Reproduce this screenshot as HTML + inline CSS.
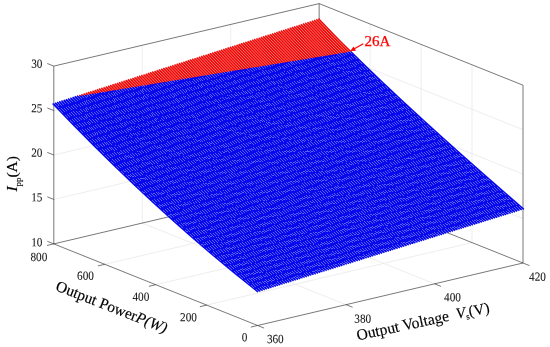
<!DOCTYPE html>
<html><head><meta charset="utf-8"><title>Ipp surface</title>
<style>
html,body{margin:0;padding:0;background:#fff}
svg{display:block}
.g{stroke:#e9e9e9;stroke-width:0.8;fill:none}
.b{stroke:#262626;stroke-width:0.62;fill:none}
.sb{stroke:#0a0aec;stroke-width:1.5;fill:none}
.sr{stroke:#ee0a0a;stroke-width:1.5;fill:none}
.lb path{stroke:#7482f6;stroke-width:0.7;fill:none;stroke-dasharray:4.6 2.6;shape-rendering:crispEdges}
.lr path{stroke:#ffb8a8;stroke-width:0.62;fill:none}
text{font-family:"Liberation Serif",serif;fill:#151515;stroke:#151515;stroke-width:0.07}
.t{font-size:11.2px}
.a{font-size:15.6px;fill:#000;stroke:#000;stroke-width:0.15}
.an{font-size:15px;fill:#f00;stroke:#f00;stroke-width:0.25}
</style></head><body>
<svg width="550" height="347" viewBox="0 0 550 347">
<rect width="550" height="347" fill="#fff"/>
<g><line x1="142.25" y1="223.07" x2="142.25" y2="45.27" class="g"/><line x1="142.25" y1="223.07" x2="346.10" y2="304.67" class="g"/><line x1="230.70" y1="202.23" x2="230.70" y2="24.43" class="g"/><line x1="230.70" y1="202.23" x2="434.55" y2="283.83" class="g"/><line x1="472.04" y1="242.60" x2="472.04" y2="64.80" class="g"/><line x1="206.69" y1="305.10" x2="472.04" y2="242.60" class="g"/><line x1="421.08" y1="222.20" x2="421.08" y2="44.40" class="g"/><line x1="155.72" y1="284.70" x2="421.08" y2="222.20" class="g"/><line x1="370.11" y1="201.80" x2="370.11" y2="24.00" class="g"/><line x1="104.76" y1="264.30" x2="370.11" y2="201.80" class="g"/><line x1="53.80" y1="199.45" x2="319.15" y2="136.95" class="g"/><line x1="319.15" y1="136.95" x2="523.00" y2="218.55" class="g"/><line x1="53.80" y1="155.00" x2="319.15" y2="92.50" class="g"/><line x1="319.15" y1="92.50" x2="523.00" y2="174.10" class="g"/><line x1="53.80" y1="110.55" x2="319.15" y2="48.05" class="g"/><line x1="319.15" y1="48.05" x2="523.00" y2="129.65" class="g"/></g>
<g><line x1="53.80" y1="243.90" x2="53.80" y2="66.10" class="b"/><line x1="53.80" y1="243.90" x2="257.65" y2="325.50" class="b"/><line x1="257.65" y1="325.50" x2="523.00" y2="263.00" class="b"/><line x1="53.80" y1="243.90" x2="319.15" y2="181.40" class="b"/><line x1="319.15" y1="181.40" x2="523.00" y2="263.00" class="b"/><line x1="319.15" y1="181.40" x2="319.15" y2="3.60" class="b"/><line x1="53.80" y1="66.10" x2="319.15" y2="3.60" class="b"/><line x1="319.15" y1="3.60" x2="523.00" y2="85.20" class="b"/><line x1="523.00" y1="263.00" x2="523.00" y2="85.20" class="b"/><line x1="53.80" y1="243.90" x2="47.30" y2="241.30" class="b"/><line x1="53.80" y1="199.45" x2="47.30" y2="196.85" class="b"/><line x1="53.80" y1="155.00" x2="47.30" y2="152.40" class="b"/><line x1="53.80" y1="110.55" x2="47.30" y2="107.95" class="b"/><line x1="53.80" y1="66.10" x2="47.30" y2="63.50" class="b"/><line x1="257.65" y1="325.50" x2="250.84" y2="327.10" class="b"/><line x1="206.69" y1="305.10" x2="199.87" y2="306.70" class="b"/><line x1="155.72" y1="284.70" x2="148.91" y2="286.30" class="b"/><line x1="104.76" y1="264.30" x2="97.95" y2="265.90" class="b"/><line x1="53.80" y1="243.90" x2="46.99" y2="245.50" class="b"/><line x1="257.65" y1="325.50" x2="264.15" y2="328.10" class="b"/><line x1="346.10" y1="304.67" x2="352.60" y2="307.27" class="b"/><line x1="434.55" y1="283.83" x2="441.05" y2="286.43" class="b"/><line x1="523.00" y1="263.00" x2="529.50" y2="265.60" class="b"/></g>
<clipPath id="below"><polygon points="0,108.32 550,18.37 550,347 0,347"/></clipPath>
<path d="M53.40 104.20 L319.30 19.40 Q385.70 90.00 523.00 208.60 L257.30 291.30 Q156.60 212.20 53.40 104.20 Z" fill="#0a0aec" clip-path="url(#below)"/>
<clipPath id="above"><polygon points="0,108.92 550,18.97 550,0 0,0"/></clipPath>
<path d="M53.40 104.20 L319.30 19.40 Q385.70 90.00 523.00 208.60 L257.30 291.30 Q156.60 212.20 53.40 104.20 Z" fill="#ee0a0a" clip-path="url(#above)"/>
<path d="M52.64 103.40 L53.40 104.20 Q156.60 212.20 257.30 291.30 L258.17 291.98M54.86 102.70 L55.62 103.49 Q158.51 211.18 259.51 290.61 L260.38 291.29M57.07 101.99 L57.83 102.79 Q160.42 210.16 261.73 289.92 L262.59 290.60M59.29 101.28 L60.05 102.08 Q162.33 209.14 263.94 289.23 L264.81 289.91M61.50 100.58 L62.26 101.37 Q164.24 208.13 266.16 288.54 L267.02 289.22M63.72 99.87 L64.48 100.67 Q166.15 207.11 268.37 287.85 L269.23 288.54M65.94 99.16 L66.69 99.96 Q168.06 206.09 270.59 287.17 L271.45 287.85M68.15 98.46 L68.91 99.25 Q169.96 205.07 272.80 286.48 L273.66 287.16M70.37 97.75 L71.13 98.55 Q171.87 204.05 275.01 285.79 L275.88 286.47M72.58 97.04 L73.34 97.84 Q173.78 203.03 277.23 285.10 L278.09 285.78M74.80 96.34 L75.56 97.13 Q175.69 202.02 279.44 284.41 L280.30 285.09M77.01 95.63 L77.77 96.43 Q177.60 201.00 281.66 283.72 L282.52 284.40M80.09 95.82 Q179.56 200.02 283.87 283.03 L284.73 283.71M82.59 95.41 Q181.62 199.12 286.08 282.34 L286.94 283.03M85.09 95.00 Q183.68 198.23 288.30 281.65 L289.16 282.34M87.59 94.60 Q185.74 197.33 290.51 280.96 L291.37 281.65M90.09 94.19 Q187.81 196.44 292.73 280.27 L293.59 280.96M92.59 93.78 Q189.88 195.54 294.94 279.58 L295.80 280.27M95.09 93.37 Q191.95 194.65 297.16 278.89 L298.01 279.58M97.59 92.96 Q194.02 193.77 299.37 278.21 L300.23 278.89M100.09 92.55 Q196.09 192.88 301.58 277.52 L302.44 278.21M102.59 92.14 Q198.16 192.00 303.80 276.83 L304.66 277.52M105.09 91.73 Q200.24 191.11 306.01 276.14 L306.87 276.83M107.59 91.32 Q202.32 190.23 308.23 275.45 L309.08 276.14M110.09 90.92 Q204.40 189.35 310.44 274.76 L311.30 275.45M112.59 90.51 Q206.48 188.48 312.65 274.07 L313.51 274.76M115.09 90.10 Q208.56 187.60 314.87 273.38 L315.72 274.07M117.60 89.69 Q210.65 186.73 317.08 272.69 L317.94 273.38M120.10 89.28 Q212.74 185.85 319.30 272.00 L320.15 272.69M122.60 88.87 Q214.83 184.98 321.51 271.31 L322.37 272.01M125.10 88.46 Q216.92 184.12 323.73 270.62 L324.58 271.32M127.60 88.05 Q219.01 183.25 325.94 269.94 L326.79 270.63M130.10 87.64 Q221.11 182.39 328.15 269.25 L329.01 269.94M132.60 87.23 Q223.21 181.52 330.37 268.56 L331.22 269.25M135.10 86.83 Q225.31 180.66 332.58 267.87 L333.44 268.56M137.60 86.42 Q227.41 179.81 334.80 267.18 L335.65 267.87M140.11 86.01 Q229.52 178.95 337.01 266.49 L337.86 267.18M142.61 85.60 Q231.62 178.09 339.22 265.80 L340.08 266.50M145.11 85.19 Q233.73 177.24 341.44 265.11 L342.29 265.81M147.61 84.78 Q235.84 176.39 343.65 264.42 L344.50 265.12M150.11 84.37 Q237.96 175.54 345.87 263.73 L346.72 264.43M152.62 83.96 Q240.07 174.70 348.08 263.04 L348.93 263.74M155.12 83.55 Q242.19 173.85 350.30 262.36 L351.15 263.05M157.62 83.14 Q244.31 173.01 352.51 261.67 L353.36 262.36M160.12 82.73 Q246.43 172.17 354.72 260.98 L355.57 261.67M162.62 82.32 Q248.55 171.33 356.94 260.29 L357.79 260.99M165.13 81.92 Q250.68 170.50 359.15 259.60 L360.00 260.30M167.63 81.51 Q252.81 169.66 361.37 258.91 L362.22 259.61M170.13 81.10 Q254.94 168.83 363.58 258.22 L364.43 258.92M172.63 80.69 Q257.07 168.00 365.79 257.53 L366.64 258.23M175.14 80.28 Q259.21 167.18 368.01 256.84 L368.86 257.54M177.64 79.87 Q261.35 166.35 370.22 256.15 L371.07 256.85M180.14 79.46 Q263.49 165.53 372.44 255.46 L373.28 256.16M182.65 79.05 Q265.63 164.71 374.65 254.77 L375.50 255.47M185.15 78.64 Q267.77 163.89 376.87 254.09 L377.71 254.79M187.65 78.23 Q269.92 163.07 379.08 253.40 L379.93 254.10M190.16 77.82 Q272.07 162.26 381.29 252.71 L382.14 253.41M192.66 77.41 Q274.22 161.45 383.51 252.02 L384.35 252.72M195.16 77.00 Q276.38 160.64 385.72 251.33 L386.57 252.03M197.67 76.59 Q278.53 159.83 387.94 250.64 L388.78 251.34M200.17 76.18 Q280.69 159.03 390.15 249.95 L391.00 250.65M202.68 75.77 Q282.85 158.22 392.36 249.26 L393.21 249.96M205.18 75.37 Q285.02 157.42 394.58 248.57 L395.42 249.28M207.68 74.96 Q287.18 156.63 396.79 247.88 L397.64 248.59M210.19 74.55 Q289.35 155.83 399.01 247.19 L399.85 247.90M212.69 74.14 Q291.52 155.04 401.22 246.50 L402.07 247.21M215.20 73.73 Q293.70 154.25 403.44 245.81 L404.28 246.52M217.70 73.32 Q295.87 153.46 405.65 245.13 L406.49 245.83M220.21 72.91 Q298.05 152.67 407.86 244.44 L408.71 245.14M222.71 72.50 Q300.23 151.89 410.08 243.75 L410.92 244.45M225.22 72.09 Q302.42 151.11 412.29 243.06 L413.14 243.76M227.72 71.68 Q304.60 150.33 414.51 242.37 L415.35 243.08M230.23 71.27 Q306.79 149.55 416.72 241.68 L417.56 242.39M232.73 70.86 Q308.98 148.78 418.93 240.99 L419.78 241.70M235.24 70.45 Q311.18 148.00 421.15 240.30 L421.99 241.01M237.75 70.04 Q313.37 147.24 423.36 239.61 L424.20 240.32M240.25 69.63 Q315.57 146.47 425.58 238.92 L426.42 239.63M242.76 69.22 Q317.77 145.70 427.79 238.23 L428.63 238.94M245.27 68.81 Q319.98 144.94 430.00 237.55 L430.85 238.25M247.77 68.40 Q322.18 144.18 432.22 236.86 L433.06 237.56M250.28 67.99 Q324.39 143.43 434.43 236.17 L435.27 236.88M252.79 67.58 Q326.60 142.67 436.65 235.48 L437.49 236.19M255.29 67.17 Q328.82 141.92 438.86 234.79 L439.70 235.50M257.80 66.76 Q331.04 141.17 441.08 234.10 L441.92 234.81M260.31 66.35 Q333.25 140.42 443.29 233.41 L444.13 234.12M262.82 65.94 Q335.48 139.68 445.50 232.72 L446.34 233.43M265.32 65.53 Q337.70 138.93 447.72 232.03 L448.56 232.74M267.83 65.12 Q339.93 138.19 449.93 231.34 L450.77 232.05M270.34 64.71 Q342.16 137.46 452.15 230.65 L452.99 231.36M272.85 64.30 Q344.39 136.72 454.36 229.96 L455.20 230.68M275.36 63.89 Q346.62 135.99 456.57 229.28 L457.41 229.99M277.87 63.48 Q348.86 135.26 458.79 228.59 L459.63 229.30M280.38 63.07 Q351.10 134.53 461.00 227.90 L461.84 228.61M282.88 62.66 Q353.34 133.81 463.22 227.21 L464.06 227.92M285.39 62.25 Q355.59 133.09 465.43 226.52 L466.27 227.23M287.90 61.84 Q357.84 132.37 467.65 225.83 L468.48 226.54M290.41 61.43 Q360.09 131.65 469.86 225.14 L470.70 225.85M292.92 61.02 Q362.34 130.94 472.07 224.45 L472.91 225.16M295.43 60.61 Q364.60 130.22 474.29 223.76 L475.13 224.48M297.94 60.19 Q366.85 129.51 476.50 223.07 L477.34 223.79M300.45 59.78 Q369.12 128.81 478.72 222.38 L479.55 223.10M302.97 59.37 Q371.38 128.10 480.93 221.69 L481.77 222.41M305.48 58.96 Q373.64 127.40 483.14 221.00 L483.98 221.72M307.99 58.55 Q375.91 126.70 485.36 220.32 L486.20 221.03M310.50 58.14 Q378.18 126.00 487.57 219.63 L488.41 220.34M313.01 57.73 Q380.46 125.31 489.79 218.94 L490.62 219.65M315.52 57.32 Q382.73 124.62 492.00 218.25 L492.84 218.96M318.04 56.91 Q385.01 123.93 494.22 217.56 L495.05 218.28M320.55 56.50 Q387.30 123.24 496.43 216.87 L497.26 217.59M323.06 56.09 Q389.58 122.56 498.64 216.18 L499.48 216.90M325.57 55.68 Q391.87 121.88 500.86 215.49 L501.69 216.21M328.09 55.27 Q394.15 121.20 503.07 214.80 L503.91 215.52M330.60 54.85 Q396.45 120.52 505.29 214.11 L506.12 214.83M333.11 54.44 Q398.74 119.85 507.50 213.42 L508.33 214.14M335.63 54.03 Q401.04 119.18 509.71 212.74 L510.55 213.45M338.14 53.62 Q403.34 118.51 511.93 212.05 L512.76 212.76M340.65 53.21 Q405.64 117.84 514.14 211.36 L514.98 212.07M343.17 52.80 Q407.94 117.18 516.36 210.67 L517.19 211.39M345.68 52.39 Q410.25 116.51 518.57 209.98 L519.40 210.70M348.20 51.98 Q412.56 115.85 520.79 209.29 L521.62 210.01M350.71 51.57 Q414.87 115.20 523.00 208.60 L523.83 209.32" class="sb"/>
<path d="M79.23 94.92 L79.99 95.72 Q80.04 95.77 80.09 95.82M81.45 94.22 L82.21 95.01 Q82.40 95.21 82.59 95.41M83.66 93.51 L84.42 94.31 Q84.75 94.66 85.09 95.00M85.88 92.80 L86.64 93.60 Q87.11 94.10 87.59 94.60M88.09 92.10 L88.85 92.89 Q89.47 93.54 90.09 94.19M90.31 91.39 L91.07 92.19 Q91.83 92.98 92.59 93.78M92.53 90.68 L93.28 91.48 Q94.19 92.43 95.09 93.37M94.74 89.98 L95.50 90.77 Q96.54 91.87 97.59 92.96M96.96 89.27 L97.72 90.07 Q98.90 91.31 100.09 92.55M99.17 88.56 L99.93 89.36 Q101.26 90.75 102.59 92.14M101.39 87.86 L102.15 88.65 Q103.62 90.19 105.09 91.73M103.61 87.15 L104.36 87.95 Q105.98 89.64 107.59 91.32M105.82 86.44 L106.58 87.24 Q108.33 89.08 110.09 90.92M108.04 85.74 L108.80 86.53 Q110.69 88.52 112.59 90.51M110.25 85.03 L111.01 85.83 Q113.05 87.96 115.09 90.10M112.47 84.32 L113.23 85.12 Q115.41 87.41 117.60 89.69M114.68 83.62 L115.44 84.41 Q117.77 86.85 120.10 89.28M116.90 82.91 L117.66 83.71 Q120.12 86.29 122.60 88.87M119.12 82.20 L119.88 83.00 Q122.48 85.73 125.10 88.46M121.33 81.50 L122.09 82.29 Q124.84 85.18 127.60 88.05M123.55 80.79 L124.31 81.59 Q127.20 84.62 130.10 87.64M125.76 80.08 L126.52 80.88 Q129.55 84.06 132.60 87.23M127.98 79.38 L128.74 80.17 Q131.91 83.50 135.10 86.83M130.20 78.67 L130.95 79.47 Q134.27 82.95 137.60 86.42M132.41 77.96 L133.17 78.76 Q136.62 82.39 140.11 86.01M134.63 77.26 L135.39 78.05 Q138.98 81.83 142.61 85.60M136.84 76.55 L137.60 77.35 Q141.34 81.27 145.11 85.19M139.06 75.84 L139.82 76.64 Q143.70 80.71 147.61 84.78M141.27 75.14 L142.03 75.93 Q146.05 80.16 150.11 84.37M143.49 74.43 L144.25 75.23 Q148.41 79.60 152.62 83.96M145.71 73.72 L146.47 74.52 Q150.76 79.04 155.12 83.55M147.92 73.02 L148.68 73.81 Q153.12 78.48 157.62 83.14M150.14 72.31 L150.90 73.11 Q155.48 77.92 160.12 82.73M152.35 71.60 L153.11 72.40 Q157.83 77.36 162.62 82.32M154.57 70.90 L155.33 71.69 Q160.19 76.80 165.13 81.92M156.79 70.19 L157.54 70.99 Q162.54 76.24 167.63 81.51M159.00 69.48 L159.76 70.28 Q164.90 75.69 170.13 81.10M161.22 68.78 L161.98 69.57 Q167.26 75.13 172.63 80.69M163.43 68.07 L164.19 68.87 Q169.61 74.57 175.14 80.28M165.65 67.36 L166.41 68.16 Q171.97 74.01 177.64 79.87M167.87 66.66 L168.62 67.45 Q174.32 73.45 180.14 79.46M170.08 65.95 L170.84 66.75 Q176.68 72.89 182.65 79.05M172.30 65.24 L173.06 66.04 Q179.03 72.33 185.15 78.64M174.51 64.54 L175.27 65.33 Q181.38 71.77 187.65 78.23M176.73 63.83 L177.49 64.63 Q183.74 71.21 190.16 77.82M178.94 63.12 L179.70 63.92 Q186.09 70.65 192.66 77.41M181.16 62.42 L181.92 63.21 Q188.44 70.08 195.16 77.00M183.38 61.71 L184.13 62.51 Q190.80 69.52 197.67 76.59M185.59 61.00 L186.35 61.80 Q193.15 68.96 200.17 76.18M187.81 60.30 L188.57 61.09 Q195.50 68.40 202.68 75.77M190.02 59.59 L190.78 60.39 Q197.86 67.84 205.18 75.37M192.24 58.88 L193.00 59.68 Q200.21 67.28 207.68 74.96M194.46 58.18 L195.21 58.97 Q202.56 66.71 210.19 74.55M196.67 57.47 L197.43 58.27 Q204.91 66.15 212.69 74.14M198.89 56.76 L199.65 57.56 Q207.26 65.59 215.20 73.73M201.10 56.06 L201.86 56.85 Q209.61 65.02 217.70 73.32M203.32 55.35 L204.08 56.15 Q211.96 64.46 220.21 72.91M205.54 54.64 L206.29 55.44 Q214.31 63.90 222.71 72.50M207.75 53.94 L208.51 54.73 Q216.66 63.33 225.22 72.09M209.97 53.23 L210.72 54.03 Q219.01 62.77 227.72 71.68M212.18 52.52 L212.94 53.32 Q221.36 62.20 230.23 71.27M214.40 51.82 L215.16 52.61 Q223.71 61.64 232.73 70.86M216.61 51.11 L217.37 51.91 Q226.06 61.07 235.24 70.45M218.83 50.40 L219.59 51.20 Q228.40 60.50 237.75 70.04M221.05 49.69 L221.80 50.49 Q230.75 59.94 240.25 69.63M223.26 48.99 L224.02 49.79 Q233.10 59.37 242.76 69.22M225.48 48.28 L226.24 49.08 Q235.45 58.80 245.27 68.81M227.69 47.57 L228.45 48.37 Q237.79 58.23 247.77 68.40M229.91 46.87 L230.67 47.67 Q240.14 57.67 250.28 67.99M232.13 46.16 L232.88 46.96 Q242.48 57.10 252.79 67.58M234.34 45.45 L235.10 46.25 Q244.83 56.53 255.29 67.17M236.56 44.75 L237.31 45.55 Q247.17 55.96 257.80 66.76M238.77 44.04 L239.53 44.84 Q249.51 55.39 260.31 66.35M240.99 43.33 L241.75 44.13 Q251.86 54.82 262.82 65.94M243.21 42.63 L243.96 43.43 Q254.20 54.25 265.32 65.53M245.42 41.92 L246.18 42.72 Q256.54 53.67 267.83 65.12M247.64 41.21 L248.39 42.01 Q258.88 53.10 270.34 64.71M249.85 40.51 L250.61 41.31 Q261.22 52.53 272.85 64.30M252.07 39.80 L252.83 40.60 Q263.56 51.95 275.36 63.89M254.29 39.09 L255.04 39.89 Q265.90 51.38 277.87 63.48M256.50 38.39 L257.26 39.19 Q268.24 50.80 280.38 63.07M258.72 37.68 L259.47 38.48 Q270.58 50.23 282.88 62.66M260.93 36.97 L261.69 37.77 Q272.91 49.65 285.39 62.25M263.15 36.27 L263.90 37.07 Q275.25 49.08 287.90 61.84M265.36 35.56 L266.12 36.36 Q277.59 48.50 290.41 61.43M267.58 34.85 L268.34 35.65 Q279.92 47.92 292.92 61.02M269.80 34.15 L270.55 34.95 Q282.26 47.34 295.43 60.61M272.01 33.44 L272.77 34.24 Q284.59 46.76 297.94 60.19M274.23 32.73 L274.98 33.53 Q286.92 46.18 300.45 59.78M276.44 32.03 L277.20 32.83 Q289.26 45.60 302.97 59.37M278.66 31.32 L279.42 32.12 Q291.59 45.02 305.48 58.96M280.88 30.61 L281.63 31.41 Q293.92 44.44 307.99 58.55M283.09 29.91 L283.85 30.71 Q296.25 43.85 310.50 58.14M285.31 29.20 L286.06 30.00 Q298.58 43.27 313.01 57.73M287.52 28.49 L288.28 29.29 Q300.91 42.68 315.52 57.32M289.74 27.79 L290.49 28.59 Q303.23 42.10 318.04 56.91M291.96 27.08 L292.71 27.88 Q305.56 41.51 320.55 56.50M294.17 26.37 L294.93 27.17 Q307.89 40.92 323.06 56.09M296.39 25.67 L297.14 26.47 Q310.21 40.34 325.57 55.68M298.60 24.96 L299.36 25.76 Q312.53 39.75 328.09 55.27M300.82 24.25 L301.57 25.05 Q314.86 39.16 330.60 54.85M303.03 23.55 L303.79 24.35 Q317.18 38.56 333.11 54.44M305.25 22.84 L306.00 23.64 Q319.50 37.97 335.63 54.03M307.47 22.13 L308.22 22.93 Q321.82 37.38 338.14 53.62M309.68 21.43 L310.44 22.23 Q324.14 36.79 340.65 53.21M311.90 20.72 L312.65 21.52 Q326.46 36.19 343.17 52.80M314.11 20.01 L314.87 20.81 Q328.78 35.59 345.68 52.39M316.33 19.31 L317.08 20.11 Q331.09 35.00 348.20 51.98M318.55 18.60 L319.30 19.40 Q333.41 34.40 350.71 51.57" class="sr"/>
<g class="lb"><path d="M54.51 103.85 Q157.55 211.69 258.41 290.96" stroke-dashoffset="-0.4"/><path d="M56.72 103.14 Q159.46 210.67 260.62 290.27" stroke-dashoffset="0.1"/><path d="M58.94 102.43 Q161.37 209.65 262.84 289.58" stroke-dashoffset="-0.2"/><path d="M61.16 101.73 Q163.28 208.64 265.05 288.89" stroke-dashoffset="0.1"/><path d="M63.37 101.02 Q165.19 207.62 267.26 288.20" stroke-dashoffset="0.2"/><path d="M65.59 100.31 Q167.10 206.60 269.48 287.51" stroke-dashoffset="-0.6"/><path d="M67.80 99.61 Q169.01 205.58 271.69 286.82" stroke-dashoffset="-0.7"/><path d="M70.02 98.90 Q170.92 204.56 273.91 286.13" stroke-dashoffset="0.5"/><path d="M72.23 98.19 Q172.83 203.54 276.12 285.44" stroke-dashoffset="-0.3"/><path d="M74.45 97.49 Q174.74 202.53 278.33 284.75" stroke-dashoffset="-0.4"/><path d="M76.67 96.78 Q176.65 201.51 280.55 284.06" stroke-dashoffset="0.7"/><path d="M78.88 96.07 Q178.56 200.49 282.76 283.37" stroke-dashoffset="-0.0"/><path d="M81.34 95.62 Q180.59 199.57 284.98 282.69" stroke-dashoffset="0.8"/><path d="M83.84 95.21 Q182.65 198.67 287.19 282.00" stroke-dashoffset="0.7"/><path d="M86.34 94.80 Q184.71 197.78 289.41 281.31" stroke-dashoffset="1.4"/><path d="M88.84 94.39 Q186.78 196.88 291.62 280.62" stroke-dashoffset="1.1"/><path d="M91.34 93.98 Q188.84 195.99 293.83 279.93" stroke-dashoffset="2.2"/><path d="M93.84 93.57 Q190.91 195.10 296.05 279.24" stroke-dashoffset="2.9"/><path d="M96.34 93.16 Q192.98 194.21 298.26 278.55" stroke-dashoffset="2.9"/><path d="M98.84 92.76 Q195.05 193.32 300.48 277.86" stroke-dashoffset="3.6"/><path d="M101.34 92.35 Q197.13 192.44 302.69 277.17" stroke-dashoffset="3.9"/><path d="M103.84 91.94 Q199.20 191.55 304.90 276.48" stroke-dashoffset="3.4"/><path d="M106.34 91.53 Q201.28 190.67 307.12 275.79" stroke-dashoffset="4.8"/><path d="M108.84 91.12 Q203.36 189.79 309.33 275.10" stroke-dashoffset="5.0"/><path d="M111.34 90.71 Q205.44 188.91 311.55 274.42" stroke-dashoffset="5.0"/><path d="M113.84 90.30 Q207.52 188.04 313.76 273.73" stroke-dashoffset="5.0"/><path d="M116.34 89.89 Q209.61 187.16 315.98 273.04" stroke-dashoffset="6.6"/><path d="M118.85 89.48 Q211.69 186.29 318.19 272.35" stroke-dashoffset="6.5"/><path d="M121.35 89.07 Q213.78 185.42 320.40 271.66" stroke-dashoffset="7.2"/><path d="M123.85 88.67 Q215.87 184.55 322.62 270.97" stroke-dashoffset="7.9"/><path d="M126.35 88.26 Q217.97 183.68 324.83 270.28" stroke-dashoffset="8.1"/><path d="M128.85 87.85 Q220.06 182.82 327.05 269.59" stroke-dashoffset="8.8"/><path d="M131.35 87.44 Q222.16 181.95 329.26 268.90" stroke-dashoffset="8.4"/><path d="M133.85 87.03 Q224.26 181.09 331.47 268.21" stroke-dashoffset="9.4"/><path d="M136.35 86.62 Q226.36 180.23 333.69 267.52" stroke-dashoffset="9.3"/><path d="M138.86 86.21 Q228.46 179.38 335.90 266.83" stroke-dashoffset="10.4"/><path d="M141.36 85.80 Q230.57 178.52 338.12 266.15" stroke-dashoffset="10.8"/><path d="M143.86 85.39 Q232.68 177.67 340.33 265.46" stroke-dashoffset="10.1"/><path d="M146.36 84.98 Q234.79 176.82 342.55 264.77" stroke-dashoffset="10.6"/><path d="M148.86 84.58 Q236.90 175.97 344.76 264.08" stroke-dashoffset="11.1"/><path d="M151.36 84.17 Q239.01 175.12 346.97 263.39" stroke-dashoffset="12.5"/><path d="M153.87 83.76 Q241.13 174.28 349.19 262.70" stroke-dashoffset="12.2"/><path d="M156.37 83.35 Q243.25 173.43 351.40 262.01" stroke-dashoffset="12.9"/><path d="M158.87 82.94 Q245.37 172.59 353.62 261.32" stroke-dashoffset="12.8"/><path d="M161.37 82.53 Q247.49 171.75 355.83 260.63" stroke-dashoffset="13.5"/><path d="M163.87 82.12 Q249.62 170.92 358.04 259.94" stroke-dashoffset="13.8"/><path d="M166.38 81.71 Q251.75 170.08 360.26 259.25" stroke-dashoffset="14.2"/><path d="M168.88 81.30 Q253.88 169.25 362.47 258.56" stroke-dashoffset="14.9"/><path d="M171.38 80.89 Q256.01 168.42 364.69 257.88" stroke-dashoffset="15.3"/><path d="M173.89 80.48 Q258.14 167.59 366.90 257.19" stroke-dashoffset="16.2"/><path d="M176.39 80.07 Q260.28 166.76 369.12 256.50" stroke-dashoffset="16.3"/><path d="M178.89 79.66 Q262.42 165.94 371.33 255.81" stroke-dashoffset="17.0"/><path d="M181.39 79.25 Q264.56 165.12 373.54 255.12" stroke-dashoffset="17.3"/><path d="M183.90 78.85 Q266.70 164.30 375.76 254.43" stroke-dashoffset="17.9"/><path d="M186.40 78.44 Q268.85 163.48 377.97 253.74" stroke-dashoffset="17.9"/><path d="M188.90 78.03 Q271.00 162.67 380.19 253.05" stroke-dashoffset="17.6"/><path d="M191.41 77.62 Q273.15 161.85 382.40 252.36" stroke-dashoffset="19.0"/><path d="M193.91 77.21 Q275.30 161.04 384.61 251.67" stroke-dashoffset="19.6"/><path d="M196.42 76.80 Q277.46 160.24 386.83 250.98" stroke-dashoffset="19.9"/><path d="M198.92 76.39 Q279.61 159.43 389.04 250.29" stroke-dashoffset="19.8"/><path d="M201.42 75.98 Q281.77 158.63 391.26 249.61" stroke-dashoffset="20.5"/><path d="M203.93 75.57 Q283.94 157.82 393.47 248.92" stroke-dashoffset="20.2"/><path d="M206.43 75.16 Q286.10 157.03 395.69 248.23" stroke-dashoffset="21.4"/><path d="M208.94 74.75 Q288.27 156.23 397.90 247.54" stroke-dashoffset="21.5"/><path d="M211.44 74.34 Q290.44 155.43 400.11 246.85" stroke-dashoffset="21.5"/><path d="M213.94 73.93 Q292.61 154.64 402.33 246.16" stroke-dashoffset="21.6"/><path d="M216.45 73.52 Q294.79 153.85 404.54 245.47" stroke-dashoffset="23.1"/><path d="M218.95 73.11 Q296.96 153.06 406.76 244.78" stroke-dashoffset="23.7"/><path d="M221.46 72.70 Q299.14 152.28 408.97 244.09" stroke-dashoffset="22.9"/><path d="M223.97 72.29 Q301.33 151.50 411.18 243.40" stroke-dashoffset="24.3"/><path d="M226.47 71.88 Q303.51 150.72 413.40 242.71" stroke-dashoffset="24.2"/><path d="M228.98 71.47 Q305.70 149.94 415.61 242.02" stroke-dashoffset="24.2"/><path d="M231.48 71.06 Q307.89 149.16 417.83 241.34" stroke-dashoffset="24.8"/><path d="M233.99 70.65 Q310.08 148.39 420.04 240.65" stroke-dashoffset="25.9"/><path d="M236.49 70.24 Q312.28 147.62 422.26 239.96" stroke-dashoffset="26.5"/><path d="M239.00 69.83 Q314.47 146.85 424.47 239.27" stroke-dashoffset="25.7"/><path d="M241.51 69.42 Q316.67 146.09 426.68 238.58" stroke-dashoffset="26.9"/><path d="M244.01 69.01 Q318.88 145.32 428.90 237.89" stroke-dashoffset="26.6"/><path d="M246.52 68.60 Q321.08 144.56 431.11 237.20" stroke-dashoffset="27.9"/><path d="M249.03 68.19 Q323.29 143.80 433.33 236.51" stroke-dashoffset="27.8"/><path d="M251.53 67.78 Q325.50 143.05 435.54 235.82" stroke-dashoffset="29.0"/><path d="M254.04 67.37 Q327.71 142.29 437.75 235.13" stroke-dashoffset="29.5"/><path d="M256.55 66.96 Q329.93 141.54 439.97 234.44" stroke-dashoffset="29.3"/><path d="M259.05 66.55 Q332.14 140.79 442.18 233.75" stroke-dashoffset="30.4"/><path d="M261.56 66.14 Q334.36 140.05 444.40 233.07" stroke-dashoffset="29.8"/><path d="M264.07 65.73 Q336.59 139.31 446.61 232.38" stroke-dashoffset="29.9"/><path d="M266.58 65.32 Q338.81 138.56 448.83 231.69" stroke-dashoffset="31.1"/><path d="M269.09 64.91 Q341.04 137.83 451.04 231.00" stroke-dashoffset="30.7"/><path d="M271.59 64.50 Q343.27 137.09 453.25 230.31" stroke-dashoffset="31.4"/><path d="M274.10 64.09 Q345.51 136.36 455.47 229.62" stroke-dashoffset="32.1"/><path d="M276.61 63.68 Q347.74 135.63 457.68 228.93" stroke-dashoffset="32.8"/><path d="M279.12 63.27 Q349.98 134.90 459.90 228.24" stroke-dashoffset="32.5"/><path d="M281.63 62.86 Q352.22 134.17 462.11 227.55" stroke-dashoffset="32.8"/><path d="M284.14 62.45 Q354.47 133.45 464.32 226.86" stroke-dashoffset="34.4"/><path d="M286.65 62.04 Q356.71 132.73 466.54 226.17" stroke-dashoffset="34.0"/><path d="M289.16 61.63 Q358.96 132.01 468.75 225.48" stroke-dashoffset="35.3"/><path d="M291.67 61.22 Q361.21 131.29 470.97 224.80" stroke-dashoffset="35.7"/><path d="M294.18 60.81 Q363.47 130.58 473.18 224.11" stroke-dashoffset="35.4"/><path d="M296.69 60.40 Q365.73 129.87 475.40 223.42" stroke-dashoffset="35.9"/><path d="M299.20 59.99 Q367.98 129.16 477.61 222.73" stroke-dashoffset="36.4"/><path d="M301.71 59.58 Q370.25 128.45 479.82 222.04" stroke-dashoffset="37.0"/><path d="M304.22 59.17 Q372.51 127.75 482.04 221.35" stroke-dashoffset="37.3"/><path d="M306.73 58.76 Q374.78 127.05 484.25 220.66" stroke-dashoffset="37.7"/><path d="M309.24 58.35 Q377.05 126.35 486.47 219.97" stroke-dashoffset="38.2"/><path d="M311.76 57.94 Q379.32 125.66 488.68 219.28" stroke-dashoffset="39.1"/><path d="M314.27 57.53 Q381.60 124.96 490.89 218.59" stroke-dashoffset="38.9"/><path d="M316.78 57.11 Q383.87 124.27 493.11 217.90" stroke-dashoffset="39.2"/><path d="M319.29 56.70 Q386.15 123.59 495.32 217.21" stroke-dashoffset="40.0"/><path d="M321.80 56.29 Q388.44 122.90 497.54 216.53" stroke-dashoffset="39.8"/><path d="M324.32 55.88 Q390.72 122.22 499.75 215.84" stroke-dashoffset="40.3"/><path d="M326.83 55.47 Q393.01 121.54 501.97 215.15" stroke-dashoffset="41.6"/><path d="M329.34 55.06 Q395.30 120.86 504.18 214.46" stroke-dashoffset="41.4"/><path d="M331.86 54.65 Q397.59 120.18 506.39 213.77" stroke-dashoffset="41.9"/><path d="M334.37 54.24 Q399.89 119.51 508.61 213.08" stroke-dashoffset="41.5"/><path d="M336.88 53.83 Q402.19 118.84 510.82 212.39" stroke-dashoffset="42.5"/><path d="M339.40 53.42 Q404.49 118.17 513.04 211.70" stroke-dashoffset="43.2"/><path d="M341.91 53.00 Q406.79 117.51 515.25 211.01" stroke-dashoffset="42.8"/><path d="M344.43 52.59 Q409.10 116.84 517.46 210.32" stroke-dashoffset="44.1"/><path d="M346.94 52.18 Q411.40 116.18 519.68 209.63" stroke-dashoffset="44.5"/><path d="M349.46 51.77 Q413.71 115.53 521.89 208.94" stroke-dashoffset="44.1"/></g>
<g class="lr"><path d="M81.10 95.37 Q81.22 95.49 81.34 95.62"/><path d="M83.31 94.66 Q83.58 94.93 83.84 95.21"/><path d="M85.53 93.95 Q85.93 94.38 86.34 94.80"/><path d="M87.75 93.25 Q88.29 93.82 88.84 94.39"/><path d="M89.96 92.54 Q90.65 93.26 91.34 93.98"/><path d="M92.18 91.83 Q93.01 92.70 93.84 93.57"/><path d="M94.39 91.13 Q95.37 92.15 96.34 93.16"/><path d="M96.61 90.42 Q97.72 91.59 98.84 92.76"/><path d="M98.82 89.71 Q100.08 91.03 101.34 92.35"/><path d="M101.04 89.01 Q102.44 90.47 103.84 91.94"/><path d="M103.26 88.30 Q104.80 89.92 106.34 91.53"/><path d="M105.47 87.59 Q107.16 89.36 108.84 91.12"/><path d="M107.69 86.89 Q109.51 88.80 111.34 90.71"/><path d="M109.90 86.18 Q111.87 88.24 113.84 90.30"/><path d="M112.12 85.47 Q114.23 87.69 116.34 89.89"/><path d="M114.34 84.77 Q116.59 87.13 118.85 89.48"/><path d="M116.55 84.06 Q118.94 86.57 121.35 89.07"/><path d="M118.77 83.35 Q121.30 86.01 123.85 88.67"/><path d="M120.98 82.65 Q123.66 85.46 126.35 88.26"/><path d="M123.20 81.94 Q126.02 84.90 128.85 87.85"/><path d="M125.41 81.23 Q128.37 84.34 131.35 87.44"/><path d="M127.63 80.53 Q130.73 83.78 133.85 87.03"/><path d="M129.85 79.82 Q133.09 83.22 136.35 86.62"/><path d="M132.06 79.11 Q135.45 82.67 138.86 86.21"/><path d="M134.28 78.41 Q137.80 82.11 141.36 85.80"/><path d="M136.49 77.70 Q140.16 81.55 143.86 85.39"/><path d="M138.71 76.99 Q142.52 80.99 146.36 84.98"/><path d="M140.93 76.29 Q144.87 80.43 148.86 84.58"/><path d="M143.14 75.58 Q147.23 79.88 151.36 84.17"/><path d="M145.36 74.87 Q149.59 79.32 153.87 83.76"/><path d="M147.57 74.17 Q151.94 78.76 156.37 83.35"/><path d="M149.79 73.46 Q154.30 78.20 158.87 82.94"/><path d="M152.00 72.75 Q156.66 77.64 161.37 82.53"/><path d="M154.22 72.05 Q159.01 77.08 163.87 82.12"/><path d="M156.44 71.34 Q161.37 76.52 166.38 81.71"/><path d="M158.65 70.63 Q163.72 75.96 168.88 81.30"/><path d="M160.87 69.93 Q166.08 75.41 171.38 80.89"/><path d="M163.08 69.22 Q168.43 74.85 173.89 80.48"/><path d="M165.30 68.51 Q170.79 74.29 176.39 80.07"/><path d="M167.52 67.81 Q173.14 73.73 178.89 79.66"/><path d="M169.73 67.10 Q175.50 73.17 181.39 79.25"/><path d="M171.95 66.39 Q177.85 72.61 183.90 78.85"/><path d="M174.16 65.69 Q180.21 72.05 186.40 78.44"/><path d="M176.38 64.98 Q182.56 71.49 188.90 78.03"/><path d="M178.59 64.27 Q184.91 70.93 191.41 77.62"/><path d="M180.81 63.57 Q187.27 70.36 193.91 77.21"/><path d="M183.03 62.86 Q189.62 69.80 196.42 76.80"/><path d="M185.24 62.15 Q191.97 69.24 198.92 76.39"/><path d="M187.46 61.45 Q194.33 68.68 201.42 75.98"/><path d="M189.67 60.74 Q196.68 68.12 203.93 75.57"/><path d="M191.89 60.03 Q199.03 67.56 206.43 75.16"/><path d="M194.11 59.33 Q201.38 66.99 208.94 74.75"/><path d="M196.32 58.62 Q203.73 66.43 211.44 74.34"/><path d="M198.54 57.91 Q206.09 65.87 213.94 73.93"/><path d="M200.75 57.21 Q208.44 65.31 216.45 73.52"/><path d="M202.97 56.50 Q210.79 64.74 218.95 73.11"/><path d="M205.18 55.79 Q213.14 64.18 221.46 72.70"/><path d="M207.40 55.09 Q215.49 63.61 223.97 72.29"/><path d="M209.62 54.38 Q217.84 63.05 226.47 71.88"/><path d="M211.83 53.67 Q220.19 62.48 228.98 71.47"/><path d="M214.05 52.97 Q222.53 61.92 231.48 71.06"/><path d="M216.26 52.26 Q224.88 61.35 233.99 70.65"/><path d="M218.48 51.55 Q227.23 60.79 236.49 70.24"/><path d="M220.70 50.85 Q229.58 60.22 239.00 69.83"/><path d="M222.91 50.14 Q231.93 59.65 241.51 69.42"/><path d="M225.13 49.43 Q234.27 59.09 244.01 69.01"/><path d="M227.34 48.73 Q236.62 58.52 246.52 68.60"/><path d="M229.56 48.02 Q238.96 57.95 249.03 68.19"/><path d="M231.77 47.31 Q241.31 57.38 251.53 67.78"/><path d="M233.99 46.61 Q243.65 56.81 254.04 67.37"/><path d="M236.21 45.90 Q246.00 56.24 256.55 66.96"/><path d="M238.42 45.19 Q248.34 55.67 259.05 66.55"/><path d="M240.64 44.49 Q250.68 55.10 261.56 66.14"/><path d="M242.85 43.78 Q253.03 54.53 264.07 65.73"/><path d="M245.07 43.07 Q255.37 53.96 266.58 65.32"/><path d="M247.29 42.37 Q257.71 53.39 269.09 64.91"/><path d="M249.50 41.66 Q260.05 52.81 271.59 64.50"/><path d="M251.72 40.95 Q262.39 52.24 274.10 64.09"/><path d="M253.93 40.25 Q264.73 51.67 276.61 63.68"/><path d="M256.15 39.54 Q267.07 51.09 279.12 63.27"/><path d="M258.36 38.83 Q269.41 50.52 281.63 62.86"/><path d="M260.58 38.13 Q271.75 49.94 284.14 62.45"/><path d="M262.80 37.42 Q274.08 49.36 286.65 62.04"/><path d="M265.01 36.71 Q276.42 48.79 289.16 61.63"/><path d="M267.23 36.01 Q278.76 48.21 291.67 61.22"/><path d="M269.44 35.30 Q281.09 47.63 294.18 60.81"/><path d="M271.66 34.59 Q283.42 47.05 296.69 60.40"/><path d="M273.88 33.89 Q285.76 46.47 299.20 59.99"/><path d="M276.09 33.18 Q288.09 45.89 301.71 59.58"/><path d="M278.31 32.47 Q290.42 45.31 304.22 59.17"/><path d="M280.52 31.77 Q292.75 44.73 306.73 58.76"/><path d="M282.74 31.06 Q295.08 44.14 309.24 58.35"/><path d="M284.95 30.35 Q297.41 43.56 311.76 57.94"/><path d="M287.17 29.65 Q299.74 42.98 314.27 57.53"/><path d="M289.39 28.94 Q302.07 42.39 316.78 57.11"/><path d="M291.60 28.23 Q304.40 41.80 319.29 56.70"/><path d="M293.82 27.53 Q306.72 41.22 321.80 56.29"/><path d="M296.03 26.82 Q309.05 40.63 324.32 55.88"/><path d="M298.25 26.11 Q311.37 40.04 326.83 55.47"/><path d="M300.47 25.41 Q313.70 39.45 329.34 55.06"/><path d="M302.68 24.70 Q316.02 38.86 331.86 54.65"/><path d="M304.90 23.99 Q318.34 38.27 334.37 54.24"/><path d="M307.11 23.29 Q320.66 37.68 336.88 53.83"/><path d="M309.33 22.58 Q322.98 37.08 339.40 53.42"/><path d="M311.54 21.87 Q325.30 36.49 341.91 53.00"/><path d="M313.76 21.17 Q327.62 35.89 344.43 52.59"/><path d="M315.98 20.46 Q329.93 35.30 346.94 52.18"/><path d="M318.19 19.75 Q332.25 34.70 349.46 51.77"/></g>
<line x1="363.3" y1="43.8" x2="353.5" y2="49.2" stroke="#f00" stroke-width="1.3"/>
<polygon points="350.2,51.1 356,50.7 353.6,46.4" fill="#f00"/>
<text x="364.5" y="46.4" class="an">26A</text>
<text transform="translate(42.4,67.8) rotate(0.3) scale(1,1.1)" class="t" text-anchor="end">30</text><text transform="translate(42.4,112.3) rotate(0.3) scale(1,1.1)" class="t" text-anchor="end">25</text><text transform="translate(42.4,156.7) rotate(0.3) scale(1,1.1)" class="t" text-anchor="end">20</text><text transform="translate(42.4,201.2) rotate(0.3) scale(1,1.1)" class="t" text-anchor="end">15</text><text transform="translate(42.4,246.2) rotate(0.3) scale(1,1.1)" class="t" text-anchor="end">10</text><text transform="translate(38.9,261.0) rotate(0.3) scale(1,1.1)" class="t" text-anchor="middle">800</text><text transform="translate(85.5,279.7) rotate(0.3) scale(1,1.1)" class="t" text-anchor="middle">600</text><text transform="translate(140.9,300.7) rotate(0.3) scale(1,1.1)" class="t" text-anchor="middle">400</text><text transform="translate(188.5,321.3) rotate(0.3) scale(1,1.1)" class="t" text-anchor="middle">200</text><text transform="translate(244.6,341.3) rotate(0.3) scale(1,1.1)" class="t" text-anchor="middle">0</text><text transform="translate(275.3,343.1) rotate(0.3) scale(1,1.1)" class="t" text-anchor="middle">360</text><text transform="translate(362.7,322.7) rotate(0.3) scale(1,1.1)" class="t" text-anchor="middle">380</text><text transform="translate(452.5,301.2) rotate(0.3) scale(1,1.1)" class="t" text-anchor="middle">400</text><text transform="translate(537.5,280.7) rotate(0.3) scale(1,1.1)" class="t" text-anchor="middle">420</text>
<text class="a" transform="translate(16.7,191.6) rotate(-90)"><tspan font-style="italic">I</tspan><tspan font-size="8.8" dy="3.8">pp</tspan><tspan dy="-3.8">(A)</tspan></text>
<text class="a" style="font-size:15.4px" transform="translate(54.8,290.0) rotate(21.4)">Output Power<tspan font-style="italic">P(W)</tspan></text>
<text class="a" transform="translate(357.7,340.5) rotate(-12.2)">Output Voltage</text>
<text class="a" style="font-size:15.2px" transform="translate(457,318.8) rotate(-11)"><tspan font-style="italic">V</tspan><tspan font-size="8.8" dy="2.8">s</tspan><tspan dy="-2.8">(V)</tspan></text>
</svg>
</body></html>
